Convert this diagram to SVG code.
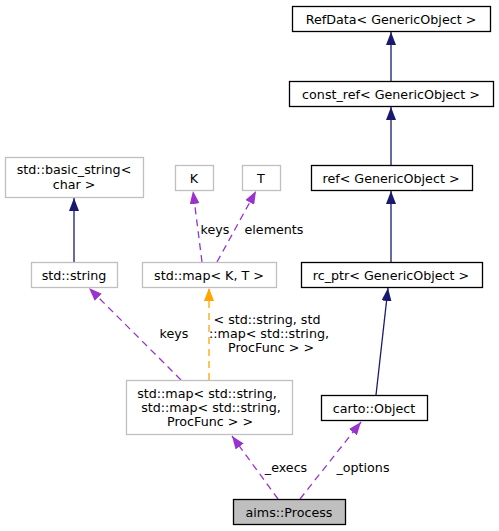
<svg xmlns="http://www.w3.org/2000/svg" width="499" height="531" viewBox="0 0 499 531">
<style>
text{font-family:"DejaVu Sans","Liberation Sans",sans-serif;font-size:12.7px;fill:#000;text-anchor:middle}
.b{fill:#fff;stroke:#000;stroke-width:1.3}
.g{fill:#fff;stroke:#bfbfbf;stroke-width:1.3}
.s{fill:#bfbfbf;stroke:#000;stroke-width:1.3}
.inh{fill:none;stroke:#191970;stroke-width:1.3}
.use{fill:none;stroke:#9a32cd;stroke-width:1.3;stroke-dasharray:7,5}
.tpl{fill:none;stroke:#ffa500;stroke-width:1.3;stroke-dasharray:7,5}
</style>
<defs>
<marker id="aN" viewBox="0 0 13 10" refX="13" refY="5" markerWidth="13" markerHeight="10" markerUnits="userSpaceOnUse" orient="auto"><path d="M0,0L13,5L0,10z" fill="#191970"/></marker>
<marker id="aP" viewBox="0 0 13 10" refX="13" refY="5" markerWidth="13" markerHeight="10" markerUnits="userSpaceOnUse" orient="auto"><path d="M0,0L13,5L0,10z" fill="#9a32cd"/></marker>
<marker id="aO" viewBox="0 0 13 10" refX="13" refY="5" markerWidth="13" markerHeight="10" markerUnits="userSpaceOnUse" orient="auto"><path d="M0,0L13,5L0,10z" fill="#ffa500"/></marker>
</defs>
<rect width="499" height="531" fill="#fff"/>
<g id="connectors">
<path class="inh" d="M391,81V32" marker-end="url(#aN)"/>
<path class="inh" d="M391,165V107" marker-end="url(#aN)"/>
<path class="inh" d="M391,262V191" marker-end="url(#aN)"/>
<path class="inh" d="M376,395L388,288" marker-end="url(#aN)"/>
<path class="inh" d="M74,262V198" marker-end="url(#aN)"/>
<path class="use" d="M202,262L193,191" marker-end="url(#aP)"/>
<path class="use" d="M217,262L256,191" marker-end="url(#aP)"/>
<path class="use" d="M181,380L89,288" marker-end="url(#aP)"/>
<path class="tpl" d="M209,380V288" marker-end="url(#aO)"/>
<path class="use" d="M278,499L232,436" marker-end="url(#aP)"/>
<path class="use" d="M300,499L361,422" marker-end="url(#aP)"/>
<text x="215" y="233.5">keys</text>
<text x="274" y="233.5">elements</text>
<text x="174" y="337.5">keys</text>
<text x="267" y="323.5">&lt; std::string, std</text>
<text x="269" y="337.5">::map&lt; std::string,</text>
<text x="271" y="351.5">ProcFunc &gt; &gt;</text>
<text x="286" y="471.5">_execs</text>
<text x="363" y="471.5">_options</text>
</g>
<g id="RefData"><rect class="b" x="292.5" y="6.5" width="198" height="25"/><text x="391" y="23.5">RefData&lt; GenericObject &gt;</text></g>
<g id="const_ref"><rect class="b" x="289.5" y="81.5" width="204" height="25"/><text x="391" y="98.5">const_ref&lt; GenericObject &gt;</text></g>
<g id="ref"><rect class="b" x="311.5" y="165.5" width="161" height="25"/><text x="391" y="182.5">ref&lt; GenericObject &gt;</text></g>
<g id="rc_ptr"><rect class="b" x="301.5" y="262.5" width="181" height="25"/><text x="391" y="279.5">rc_ptr&lt; GenericObject &gt;</text></g>
<g id="carto_Object"><rect class="b" x="321.5" y="395.5" width="106" height="25"/><text x="374" y="412.5">carto::Object</text></g>
<g id="aims_Process"><rect class="s" x="233.5" y="499.5" width="112" height="25"/><text x="289" y="516.5">aims::Process</text></g>
<g id="map_string_map"><rect class="g" x="126.5" y="380.5" width="166" height="54"/><text x="207" y="397.5">std::map&lt; std::string,</text><text x="211" y="411.5">std::map&lt; std::string,</text><text x="210" y="425.5">ProcFunc &gt; &gt;</text></g>
<g id="map_K_T"><rect class="g" x="142.5" y="262.5" width="134" height="25"/><text x="209" y="279.5">std::map&lt; K, T &gt;</text></g>
<g id="std_string"><rect class="g" x="31.5" y="262.5" width="86" height="25"/><text x="74" y="279.5">std::string</text></g>
<g id="basic_string"><rect class="g" x="5.5" y="157.5" width="138" height="40"/><text x="74" y="173.5">std::basic_string&lt;</text><text x="74" y="188.5">char &gt;</text></g>
<g id="K"><rect class="g" x="175.5" y="165.5" width="38" height="25"/><text x="194" y="182.5">K</text></g>
<g id="T"><rect class="g" x="242.5" y="165.5" width="38" height="25"/><text x="261" y="182.5">T</text></g>
</svg>
